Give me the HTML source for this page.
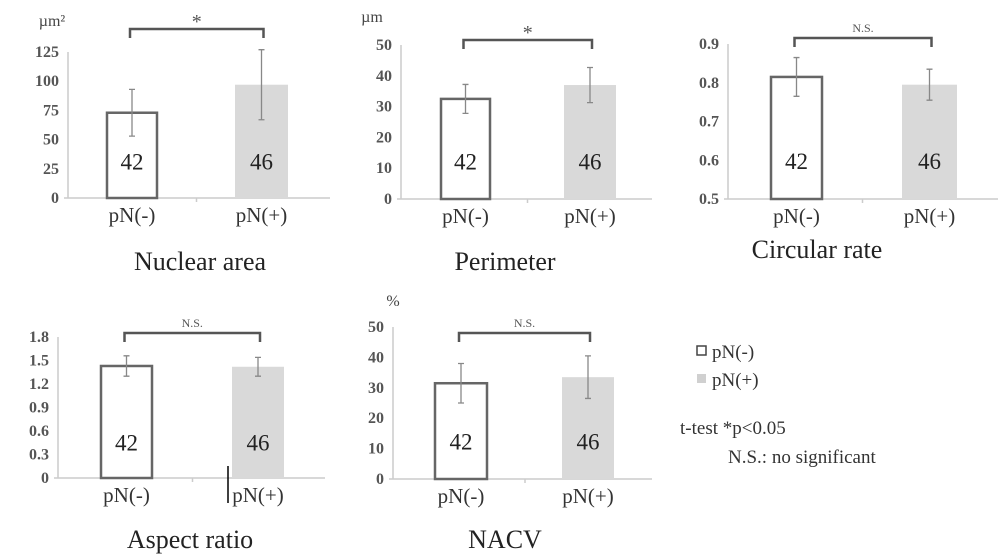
<!DOCTYPE html>
<html><head><meta charset="utf-8"><style>
body{margin:0;background:#fff;}
svg{display:block;font-family:"Liberation Serif","DejaVu Serif",serif;}
</style></head><body>
<svg id="c" width="1000" height="558" viewBox="0 0 1000 558" xmlns="http://www.w3.org/2000/svg"></svg>
<script>
const categories = ["pN(-)", "pN(+)"];
const counts = ["42", "46"];
const titles = ["Nuclear area", "Perimeter", "Circular rate", "Aspect ratio", "NACV"];
const units = ["µm²", "µm", "", "", "%"];
const sig = ["*", "*", "N.S.", "N.S.", "N.S."];
const meanNeg = [73, 32.5, 0.815, 1.43, 31.5];
const meanPos = [97, 37, 0.795, 1.42, 33.5];
const sdNeg = [20, 4.7, 0.05, 0.13, 6.5];
const sdPos = [30, 5.7, 0.04, 0.12, 7];
const ticks0 = ["0","25","50","75","100","125"];
const ticks1 = ["0","10","20","30","40","50"];
const ticks2 = ["0.5","0.6","0.7","0.8","0.9"];
const ticks3 = ["0","0.3","0.6","0.9","1.2","1.5","1.8"];
const ticks4 = ["0","10","20","30","40","50"];
const tickSets = [ticks0, ticks1, ticks2, ticks3, ticks4];

const layout = [
 {ax:68,top:52,bot:198,xend:330,b1:[106,158],b2:[235,288],by:29,title:[200,262],unit:[52,26]},
 {ax:401,top:45,bot:199,xend:652,b1:[440,491],b2:[564,616],by:40,title:[505,262],unit:[372,22]},
 {ax:728,top:44,bot:199,xend:998,b1:[770,823],b2:[902,957],by:38,title:[817,250],unit:null},
 {ax:58,top:337,bot:478,xend:325,b1:[100,153],b2:[232,284],by:333,title:[190,540],unit:null},
 {ax:393,top:327,bot:479,xend:652,b1:[434,488],b2:[562,614],by:333,title:[505,540],unit:[393,306]}
];
const svg = document.getElementById('c');
const NS = "http://www.w3.org/2000/svg";
function mk(tag, attrs, parent){const e=document.createElementNS(NS,tag);for(const k in attrs)e.setAttribute(k,attrs[k]);(parent||svg).appendChild(e);return e;}

titles.forEach((t,i)=>{
  const L = layout[i], ticks = tickSets[i];
  const g = mk('g',{});
  
  
  const lo = parseFloat(ticks[0]), hi = parseFloat(ticks[ticks.length-1]);
  const y = v => L.bot - (v-lo)/(hi-lo)*(L.bot-L.top);
  const ya = mk('line',{x1:L.ax,y1:L.top,x2:L.ax,y2:L.bot,stroke:'#ccc','stroke-width':1.5},g);
  
  
  const xa = mk('line',{x1:L.ax-4,y1:L.bot,x2:L.xend,y2:L.bot,stroke:'#ccc','stroke-width':1.5},g);
  
  
  const mid = (L.b1[1]+L.b2[0])/2;
  mk('line',{x1:mid,y1:L.bot,x2:mid,y2:L.bot+4,stroke:'#ccc','stroke-width':1.5},g);
  ticks.forEach(tk=>{
    const tt = mk('text',{x:L.ax-9,y:y(parseFloat(tk))+5,'text-anchor':'end','font-size':16,'font-weight':'bold',fill:'#555'},g);
    tt.textContent = tk;
    
    
  });
  if(units[i]){
    const u = mk('text',{x:L.unit[0],y:L.unit[1],'text-anchor':'middle','font-size':16,fill:'#444'},g);
    u.textContent = units[i];
    
    
  }
  const means=[meanNeg[i],meanPos[i]], sds=[sdNeg[i],sdPos[i]], bx=[L.b1,L.b2];
  const centers=[];
  [0,1].forEach(j=>{
    const x0=bx[j][0], x1=bx[j][1], yt=y(means[j]);
    const r = j===0 ? mk('rect',{x:x0+1,y:yt,width:x1-x0-2,height:L.bot-yt,fill:'#fff',stroke:'#666','stroke-width':2.5},g)
                    : mk('rect',{x:x0,y:yt,width:x1-x0,height:L.bot-yt,fill:'#d9d9d9'},g);
    
    
    const cx=(x0+x1)/2; centers.push(cx);
    const e = mk('path',{d:`M${cx},${y(means[j]-sds[j])}V${y(means[j]+sds[j])}M${cx-3},${y(means[j]-sds[j])}h6M${cx-3},${y(means[j]+sds[j])}h6`,stroke:'#888','stroke-width':1.3,fill:'none'},g);
    
    
    const n = mk('text',{x:cx,y:(L.top+L.bot)/2+48*(L.bot-L.top)/150-2,'text-anchor':'middle','font-size':23,fill:'#222'},g);
    n.textContent = counts[j];
    
    
    const c = mk('text',{x:cx,y:L.bot+24,'text-anchor':'middle','font-size':21,fill:'#333'},g);
    c.textContent = categories[j];
    
    
  });
  const br = mk('path',{d:`M${centers[0]-2},${L.by+9}V${L.by}H${centers[1]+2}V${L.by+9}`,stroke:'#555','stroke-width':2.5,fill:'none'},g);
  
  
  const s = mk('text',{x:(centers[0]+centers[1])/2,y:sig[i]==='*'?L.by-1:L.by-6,'text-anchor':'middle','font-size':sig[i]==='*'?20:12,fill:'#555'},g);
  s.textContent = sig[i];
  
  
  const ti = mk('text',{x:L.title[0],y:L.title[1]+8,'text-anchor':'middle','font-size':26,fill:'#222'},g);
  ti.textContent = t;
  
  
});
const st = mk('line',{x1:228,y1:466,x2:228,y2:503,stroke:'#000','stroke-width':1.5});


const lg = mk('g',{});


const r1 = mk('rect',{x:697,y:346,width:9,height:9,fill:'#fff',stroke:'#444','stroke-width':1.5},lg);


const r2 = mk('rect',{x:697,y:374,width:9,height:9,fill:'#d0d0d0'},lg);


[[712,358,'pN(-)'],[712,386,'pN(+)'],[680,434,'t-test  *p<0.05'],[728,463,'N.S.: no significant']].forEach(a=>{
  const t = mk('text',{x:a[0],y:a[1],'font-size':19,fill:'#333','xml:space':'preserve'},lg);
  t.textContent = a[2];
  
  
});
</script>
</body></html>
